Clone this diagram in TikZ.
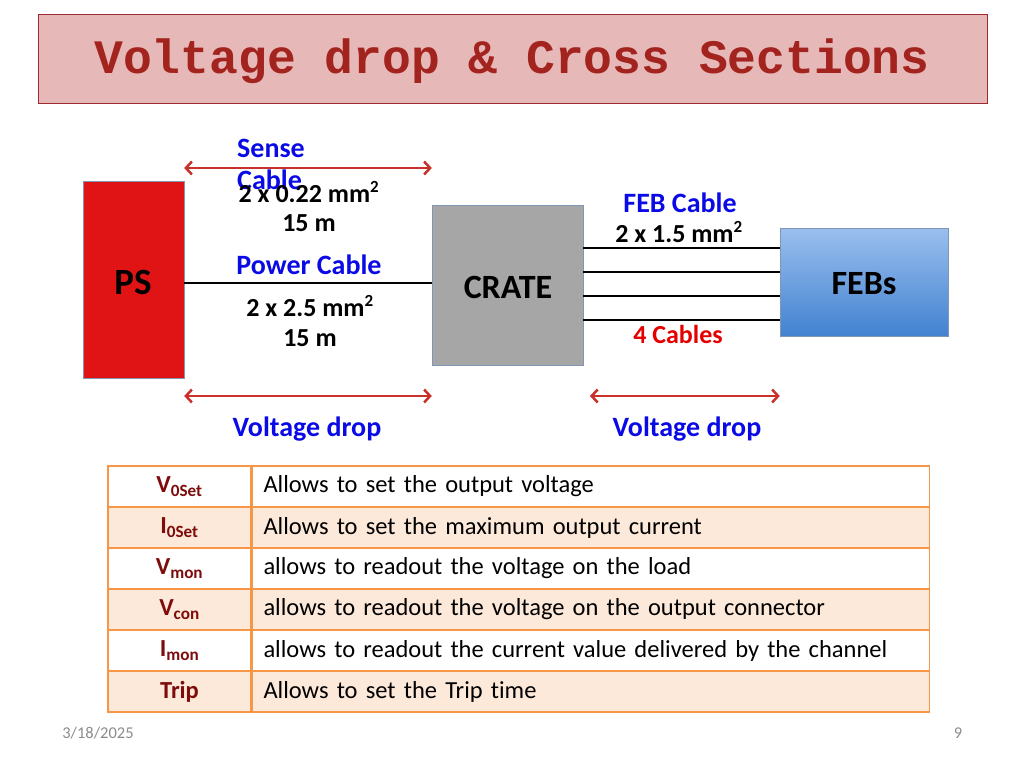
\documentclass[tikz,border=0pt]{standalone}
\usepackage{fontspec}
\setmainfont{Carlito}[Ligatures=NoCommon]
\newfontfamily\titlefont{Liberation Mono}
\usetikzlibrary{arrows.meta,positioning}
\definecolor{titlered}{HTML}{A3231F}
\definecolor{titlefill}{HTML}{E6B8B7}
\definecolor{titleline}{HTML}{9C2A2E}
\definecolor{psred}{HTML}{E01414}
\definecolor{boxline}{HTML}{7F96B4}
\definecolor{crategray}{HTML}{A6A6A6}
\definecolor{febtop}{HTML}{9ABFEE}
\definecolor{febbot}{HTML}{4282D0}
\definecolor{labelblue}{HTML}{0A0AE6}
\definecolor{arrowred}{HTML}{C8302A}
\definecolor{tableline}{HTML}{F79646}
\definecolor{rowpeach}{HTML}{FDE9D9}
\definecolor{namered}{HTML}{7E0C0C}
\definecolor{footgray}{HTML}{8C8C8C}

\tikzset{
  unit/.style={draw, inner sep=0pt},
  unitname/.style={inner sep=0pt, font=\fontsize{34}{40}\selectfont\bfseries},
  lbl/.style={inner sep=0pt, font=\fontsize{26}{30}\selectfont\bfseries},
  bluelbl/.style={lbl, text=labelblue, font=\fontsize{28}{32}\selectfont\bfseries},
  cable/.style={line width=2.5pt},
  drop/.style={draw=arrowred, line width=2.5pt,
    {Straight Barb[length=6pt,width=13pt]}-{Straight Barb[length=6pt,width=13pt]}},
  namecell/.style={draw=tableline, line width=1.5pt, minimum width=143pt,
    minimum height=41pt, inner sep=0pt, text=namered,
    font=\fontsize{24.5}{28}\selectfont\bfseries},
  textcell/.style={draw=tableline, line width=1.5pt, minimum width=677pt,
    text width=655pt, align=left, minimum height=41pt, inner ysep=0pt,
    inner xsep=11pt, font=\fontsize{24.5}{28}\selectfont}
}
\newcommand{\sq}{\textsuperscript{\fontsize{17}{17}\selectfont 2}}

\begin{document}
\begin{tikzpicture}[x=1pt, y=-1pt]
  \useasboundingbox (0,0) rectangle (1024,768);

  % title
  \node[draw=titleline, fill=titlefill, line width=1pt, minimum width=949pt,
        minimum height=88pt, inner sep=0pt] (titlebox) at (512.5,59) {};
  \node[text=titlered, inner sep=0pt,
        font=\titlefont\fontsize{48}{52}\selectfont\bfseries]
        (title) at (512,61.5) {Voltage drop \& Cross Sections};

  % units
  \node[unit, draw=boxline, fill=psred, minimum width=101pt, minimum height=197pt]
        (ps) at (133.5,279.5) {};
  \node[unitname, font=\fontsize{37}{42}\selectfont\bfseries] (pslabel) at (133,282) {PS};
  \node[unit, draw=boxline, fill=crategray, minimum width=151pt, minimum height=160pt]
        (crate) at (507.5,285) {};
  \node[unitname] (cratelabel) at (508,287) {CRATE};
  \node[unit, draw=boxline, top color=febtop, bottom color=febbot,
        minimum width=168pt, minimum height=108pt]
        (febs) at (864,282) {};
  \node[unitname] (febslabel) at (864,284) {FEBs};

  % cables
  \draw[cable] (ps.east |- 0,283) -- (crate.west |- 0,283);
  \foreach \y in {248,272,296,320}
    \draw[cable] (crate.east |- 0,\y) -- (febs.west |- 0,\y);

  % cable labels
  \node[bluelbl, align=left, anchor=north west, font=\fontsize{28}{32}\selectfont\bfseries]
        (sense) at (237,139) {Sense\\Cable};
  \node[lbl] (sensesec) at (309,192) {2 x 0.22 mm\sq};
  \node[lbl] (senselen) at (309,223) {15 m};
  \node[bluelbl] (power) at (309,265) {Power Cable};
  \node[lbl] (powersec) at (310,306) {2 x 2.5 mm\sq};
  \node[lbl] (powerlen) at (310,338) {15 m};
  \node[bluelbl] (feb) at (680,203) {FEB Cable};
  \node[lbl] (febsec) at (679,232) {2 x 1.5 mm\sq};
  \node[lbl, text=red!90!black] (febnum) at (678,334) {4 Cables};

  % voltage drops
  \coordinate (s1) at (ps.east |- 0,168);
  \coordinate (s2) at (crate.west |- 0,168);
  \coordinate (d1) at (ps.east |- 0,396);
  \coordinate (d2) at (crate.west |- 0,396);
  \coordinate (d3) at (590,396);
  \coordinate (d4) at (febs.west |- 0,396);
  \draw[drop] (s1) -- (s2);
  \draw[drop] (d1) -- (d2);
  \draw[drop] (d3) -- (d4);
  \node[bluelbl] (dropps) at (307,429) {Voltage drop};
  \node[bluelbl] (dropfeb) at (687,429) {Voltage drop};

  % parameter table
  \foreach \f/\n/\t [count=\i] in {
      white/{V\textsubscript{0Set}}/{Allows to set the output voltage},
      rowpeach/{I\textsubscript{0Set}}/{Allows to set the maximum output current},
      white/{V\textsubscript{mon}}/{allows to readout the voltage on the load},
      rowpeach/{V\textsubscript{con}}/{allows to readout the voltage on the output connector},
      white/{I\textsubscript{mon}}/{allows to readout the current value delivered by the channel},
      rowpeach/{Trip}/{Allows to set the Trip time}} {
    \node[namecell, fill=\f] (name\i) at (179.5,{486.5+41*(\i-1)}) {\n};
    \node[textcell, fill=\f, right=0pt of name\i] (text\i) {\t};
  }

  % footer
  \node[text=footgray, font=\fontsize{16.5}{19}\selectfont] (date) at (98,733) {3/18/2025};
  \node[text=footgray, font=\fontsize{16.5}{19}\selectfont] (page) at (958,733) {9};
\end{tikzpicture}
\end{document}
